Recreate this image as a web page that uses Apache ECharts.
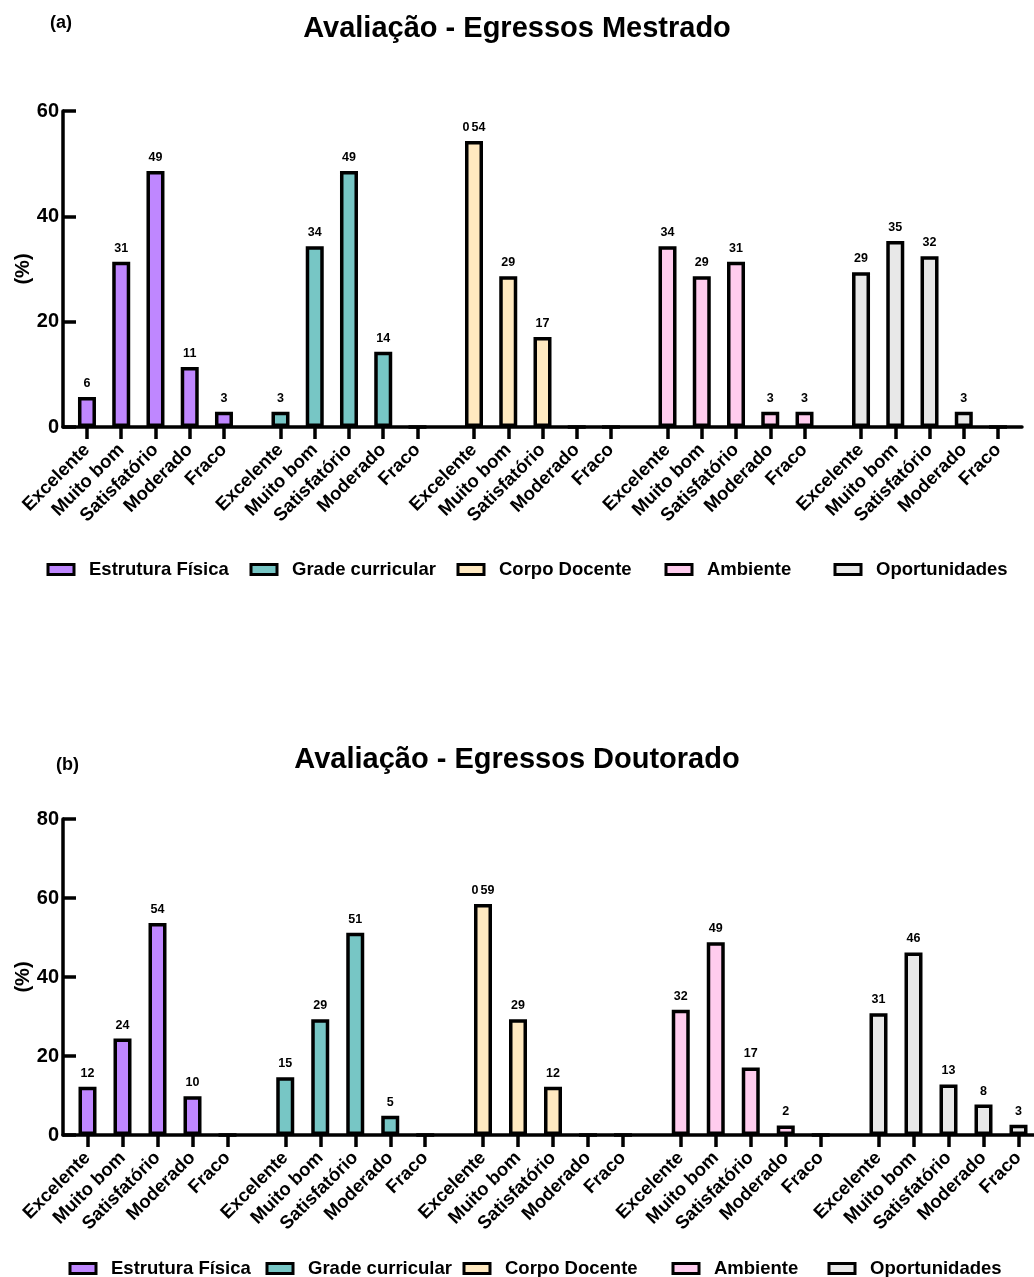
<!DOCTYPE html>
<html>
<head>
<meta charset="utf-8">
<script src="https://cdn.jsdelivr.net/npm/echarts@6/dist/echarts.min.js"></script>
<style>
  html, body { margin: 0; padding: 0; background: #fff; }
  #chart { width: 1034px; height: 1277px; }
</style>
</head>
<body>
<div id="chart"></div>
<script>
// ---------------- DATA ----------------
const categories = ['Excelente', 'Muito bom', 'Satisfatório', 'Moderado', 'Fraco'];
const seriesNames = ['Estrutura Física', 'Grade curricular', 'Corpo Docente', 'Ambiente', 'Oportunidades'];

// (a) Egressos Mestrado, %
const mestradoEstrutura     = [5.7, 31.4, 48.6, 11.4, 2.9];
const mestradoGrade         = [2.9, 34.3, 48.6, 14.3, 0];
const mestradoCorpo         = [54.3, 28.6, 17.1, 0, 0];
const mestradoAmbiente      = [34.3, 28.6, 31.4, 2.9, 2.9];
const mestradoOportunidades = [29.4, 35.3, 32.4, 2.9, 0];

const mestradoEstruturaLabels     = ['6', '31', '49', '11', '3'];
const mestradoGradeLabels         = ['3', '34', '49', '14', ''];
const mestradoCorpoLabels         = ['0\u200A\u200A54', '29', '17', '', ''];
const mestradoAmbienteLabels      = ['34', '29', '31', '3', '3'];
const mestradoOportunidadesLabels = ['29', '35', '32', '3', ''];

// (b) Egressos Doutorado, %
const doutoradoEstrutura     = [12.2, 24.4, 53.7, 9.8, 0];
const doutoradoGrade         = [14.6, 29.3, 51.2, 4.9, 0];
const doutoradoCorpo         = [58.5, 29.3, 12.2, 0, 0];
const doutoradoAmbiente      = [31.7, 48.8, 17.1, 2.4, 0];
const doutoradoOportunidades = [30.8, 46.2, 12.8, 7.7, 2.6];

const doutoradoEstruturaLabels     = ['12', '24', '54', '10', ''];
const doutoradoGradeLabels         = ['15', '29', '51', '5', ''];
const doutoradoCorpoLabels         = ['0\u200A\u200A59', '29', '12', '', ''];
const doutoradoAmbienteLabels      = ['32', '49', '17', '2', ''];
const doutoradoOportunidadesLabels = ['31', '46', '13', '8', '3'];

const yMaxA = 60;
const yMaxB = 80;
const yInterval = 20;

// ---------------- STYLE / LAYOUT ----------------
const colors = ['#BF87FF', '#77C6C5', '#FFE9C0', '#FFCCEE', '#E8E8E8'];
const FONT = '"Liberation Sans", Arial, Helvetica, sans-serif';
const groupStep = 5.65;      // category slots between group starts
const xMin = -0.7;
const xMax = 4 * groupStep + 4 + 0.7;

const positions = [];
const posLabel = [];
for (let g = 0; g < seriesNames.length; g++) {
  for (let i = 0; i < categories.length; i++) {
    positions.push(+(g * groupStep + i).toFixed(4));
    posLabel.push(categories[i]);
  }
}
function labelFor(v) {
  for (let k = 0; k < positions.length; k++) {
    if (Math.abs(positions[k] - v) < 1e-3) return posLabel[k];
  }
  return '';
}

const setA = [
  [mestradoEstrutura, mestradoEstruturaLabels],
  [mestradoGrade, mestradoGradeLabels],
  [mestradoCorpo, mestradoCorpoLabels],
  [mestradoAmbiente, mestradoAmbienteLabels],
  [mestradoOportunidades, mestradoOportunidadesLabels]
];
const setB = [
  [doutoradoEstrutura, doutoradoEstruturaLabels],
  [doutoradoGrade, doutoradoGradeLabels],
  [doutoradoCorpo, doutoradoCorpoLabels],
  [doutoradoAmbiente, doutoradoAmbienteLabels],
  [doutoradoOportunidades, doutoradoOportunidadesLabels]
];

function makeSeries(set, axisIdx) {
  return set.map(([vals, labs], g) => ({
    name: seriesNames[g],
    type: 'bar',
    xAxisIndex: axisIdx,
    yAxisIndex: axisIdx,
    barWidth: 18,
    barGap: '-100%',
    data: vals.map((v, i) => [g * groupStep + i, v]),
    itemStyle: { color: colors[g], borderColor: '#000', borderWidth: 3.5 },
    label: {
      show: true,
      position: 'top',
      distance: 7,
      color: '#000',
      fontFamily: FONT,
      fontWeight: 'bold',
      fontSize: 12.5,
      formatter: p => labs[p.dataIndex]
    },
    emphasis: { disabled: true },
    animation: false
  }));
}

function xAxis(gridIndex) {
  return {
    type: 'value', gridIndex, min: xMin, max: xMax,
    axisLine: { show: true, onZero: false, lineStyle: { color: '#000', width: 3.5 } },
    axisTick: { show: true, customValues: positions, length: 12, inside: false, lineStyle: { color: '#000', width: 3.5 } },
    axisLabel: {
      show: true, customValues: positions, rotate: 45, margin: 20,
      color: '#000', fontFamily: FONT, fontWeight: 'bold', fontSize: 18.5,
      formatter: v => labelFor(v)
    },
    splitLine: { show: false }
  };
}
function yAxis(gridIndex, max) {
  return {
    type: 'value', gridIndex, min: 0, max, interval: yInterval,
    name: '(%)', nameLocation: 'middle', nameGap: 30, nameRotate: 90,
    nameMoveOverlap: false,
    nameTextStyle: { color: '#000', fontFamily: FONT, fontWeight: 'bold', fontSize: 20 },
    axisLine: { show: true, onZero: false, lineStyle: { color: '#000', width: 3.5 } },
    axisTick: { show: true, inside: true, length: 13, lineStyle: { color: '#000', width: 3.5 } },
    axisLabel: { color: '#000', fontFamily: FONT, fontWeight: 'bold', fontSize: 20, margin: 4 },
    splitLine: { show: false }
  };
}

const legendLeftA = [46.5, 249.5, 456.5, 664.5, 833.5];
const legendLeftB = [68.5, 265.5, 462.5, 671.5, 827.5];
function legends(lefts, top) {
  return seriesNames.map((n, g) => ({
    data: [n], left: lefts[g], top,
    icon: 'rect', itemWidth: 26, itemHeight: 10,
    itemStyle: { borderColor: '#000', borderWidth: 3 },
    textStyle: { color: '#000', fontFamily: FONT, fontWeight: 'bold', fontSize: 18.5, padding: [0, 0, 0, 10] },
    selectedMode: false, padding: 0
  }));
}

const titleStyle = { color: '#000', fontFamily: FONT, fontWeight: 'bold', fontSize: 29 };
const tagStyle = { color: '#000', fontFamily: FONT, fontWeight: 'bold', fontSize: 18 };

const option = {
  backgroundColor: '#fff',
  animation: false,
  title: [
    { text: 'Avaliação - Egressos Mestrado', left: 'center', top: 14, textStyle: titleStyle, padding: 0 },
    { text: '(a)', left: 50, top: 14, textStyle: tagStyle, padding: 0 },
    { text: 'Avaliação - Egressos Doutorado', left: 'center', top: 745, textStyle: titleStyle, padding: 0 },
    { text: '(b)', left: 56, top: 756, textStyle: tagStyle, padding: 0 }
  ],
  legend: legends(legendLeftA, 560).concat(legends(legendLeftB, 1259)),
  grid: [
    { left: 63, top: 111, width: 959, height: 316, outerBoundsMode: 'none', containLabel: false },
    { left: 63, top: 819, width: 980, height: 316, outerBoundsMode: 'none', containLabel: false }
  ],
  xAxis: [xAxis(0), xAxis(1)],
  yAxis: [yAxis(0, yMaxA), yAxis(1, yMaxB)],
  series: makeSeries(setA, 0).concat(makeSeries(setB, 1))
};

const chart = echarts.init(document.getElementById('chart'), null, { renderer: 'canvas' });
chart.setOption(option);
</script>
</body>
</html>
